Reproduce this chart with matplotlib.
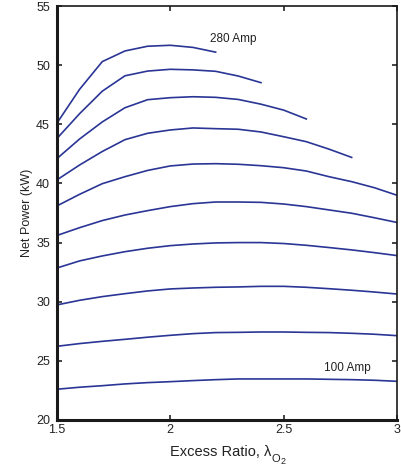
import matplotlib
matplotlib.use("Agg")
import matplotlib.pyplot as plt
from matplotlib.transforms import IdentityTransform

plt.rcParams['font.family'] = ['Liberation Sans', 'DejaVu Sans']

# Oxygen excess ratio sample points
excess_ratio = [1.5, 1.6, 1.7, 1.8, 1.9, 2.0, 2.1, 2.2,
                2.3, 2.4, 2.5, 2.6, 2.7, 2.8, 2.9, 3.0]

# Stack currents (Amp)
currents = [100, 120, 140, 160, 180, 200, 220, 240, 260, 280]

# Net power (kW) for each stack current
power_100 = [22.6, 22.77, 22.9, 23.05, 23.16, 23.24, 23.33, 23.41,
             23.47, 23.47, 23.47, 23.47, 23.44, 23.41, 23.36, 23.27]
power_120 = [26.23, 26.46, 26.65, 26.82, 27.0, 27.16, 27.3, 27.39,
             27.41, 27.44, 27.44, 27.41, 27.39, 27.33, 27.25, 27.13]
power_140 = [29.73, 30.12, 30.43, 30.68, 30.91, 31.08, 31.16, 31.22,
             31.25, 31.3, 31.3, 31.22, 31.1, 30.97, 30.82, 30.65]
power_160 = [32.85, 33.45, 33.87, 34.23, 34.52, 34.74, 34.88, 34.97,
             35.0, 35.0, 34.92, 34.77, 34.58, 34.38, 34.15, 33.9]
power_180 = [35.6, 36.26, 36.86, 37.33, 37.7, 38.04, 38.29, 38.43,
             38.43, 38.4, 38.26, 38.04, 37.76, 37.48, 37.1, 36.7]
power_200 = [38.1, 39.08, 39.98, 40.57, 41.1, 41.48, 41.64, 41.67,
             41.62, 41.5, 41.33, 41.05, 40.57, 40.15, 39.64, 39.0]
power_220 = [40.3, 41.56, 42.7, 43.7, 44.24, 44.52, 44.69, 44.63,
             44.58, 44.35, 43.95, 43.53, 42.9, 42.2]
power_240 = [42.1, 43.76, 45.2, 46.4, 47.08, 47.25, 47.33, 47.28,
             47.1, 46.7, 46.2, 45.45]
power_260 = [43.8, 45.9, 47.8, 49.1, 49.5, 49.65, 49.6, 49.48,
             49.08, 48.52]
power_280 = [45.1, 47.96, 50.3, 51.2, 51.6, 51.68, 51.5, 51.1]

series = [power_100, power_120, power_140, power_160, power_180,
          power_200, power_220, power_240, power_260, power_280]

x_ticks = [1.5, 2.0, 2.5, 3.0]
x_tick_labels = ['1.5', '2', '2.5', '3']
y_ticks = [20, 25, 30, 35, 40, 45, 50, 55]

line_color = '#2a3595'
text_color = '#222222'

fig = plt.figure(figsize=(4.01, 4.70), dpi=100)
ax = fig.add_axes([0.142, 0.1064, 0.848, 0.8808])

for values in series:
    ax.plot(excess_ratio[:len(values)], values, color=line_color,
            linewidth=1.2, solid_joinstyle='round')

ax.set_xlim(1.5, 3.0)
ax.set_ylim(20, 55)
ax.set_xticks(x_ticks)
ax.set_xticklabels(x_tick_labels)
ax.set_yticks(y_ticks)

ax.tick_params(direction='in', length=3.5, width=1.1, labelsize=9,
               colors='#111111', labelcolor=text_color, top=True, right=True)
ax.tick_params(axis='y', pad=5)
ax.tick_params(axis='x', pad=3)

for side in ['left', 'bottom']:
    ax.spines[side].set_linewidth(2.2)
for side in ['top', 'right']:
    ax.spines[side].set_linewidth(1.2)
for sp in ax.spines.values():
    sp.set_color('#1a1a1a')

ax.set_ylabel('Net Power (kW)', fontsize=9, color=text_color, labelpad=2)

ax.text(2.175, 52.2, f'{currents[-1]} Amp', fontsize=8.5, color=text_color,
        va='center', ha='left')
ax.text(2.68, 24.4, f'{currents[0]} Amp', fontsize=8.5, color=text_color,
        va='center', ha='left')

# x-axis label: "Excess Ratio, λ" with a two-level subscript O₂
pix = IdentityTransform()
main = fig.text(170, 14, 'Excess Ratio, \u03bb', fontsize=10.5,
                color=text_color, ha='left', va='baseline', transform=pix)
fig.canvas.draw()
renderer = fig.canvas.get_renderer()
x_end = main.get_window_extent(renderer).x1
sub_o = fig.text(x_end + 0.5, 8, 'O', fontsize=8, color=text_color,
                 ha='left', va='baseline', transform=pix)
fig.canvas.draw()
x_end_o = sub_o.get_window_extent(renderer).x1
fig.text(x_end_o + 0.3, 6, '2', fontsize=6.5, color=text_color,
         ha='left', va='baseline', transform=pix)

fig.savefig('out.png', dpi=100)
